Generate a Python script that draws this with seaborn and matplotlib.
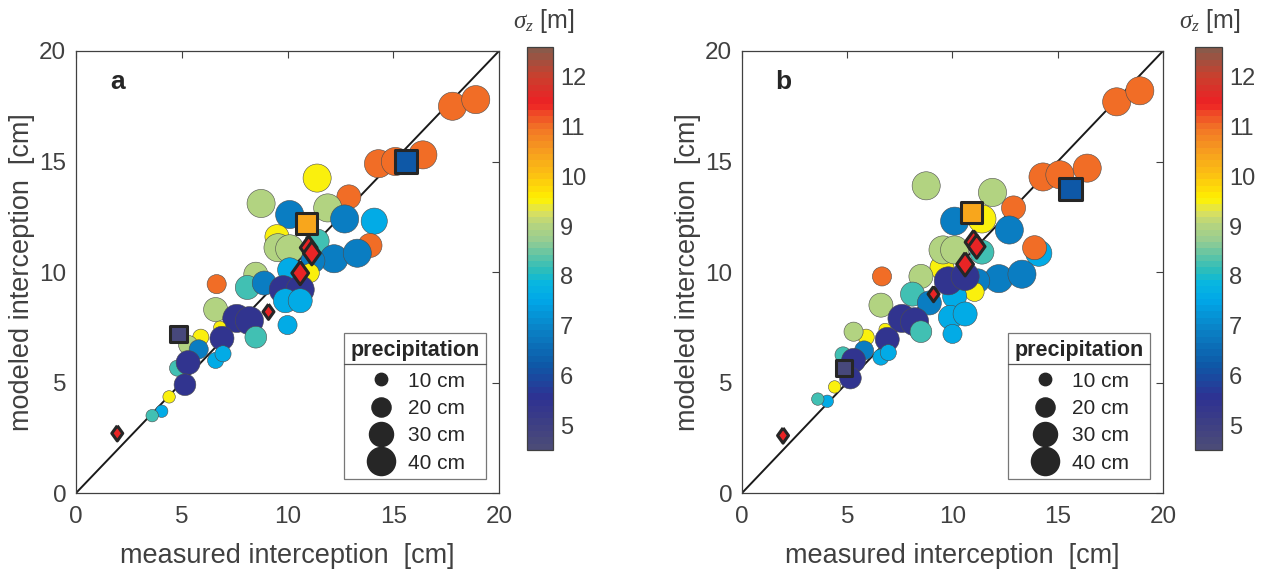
import numpy as np
import pandas as pd
import seaborn as sns
import matplotlib.pyplot as plt
from matplotlib.colors import LinearSegmentedColormap, Normalize
from matplotlib.cm import ScalarMappable
from matplotlib.lines import Line2D

# --- data: circles (sites) ---
measured = [17.8, 18.9, 14.3, 15.1, 16.4, 11.4, 12.9, 8.75, 10.1, 11.9,
            12.7, 14.1, 9.5, 9.55, 10.1, 11.4, 13.9, 12.2, 13.3, 11.2,
            11.05, 10.1, 8.5, 6.65, 8.1, 8.9, 9.8, 10.6, 9.9, 10.6,
            6.6, 7.6, 8.2, 10.0, 8.5, 6.8, 6.9, 5.9, 5.3, 5.8,
            6.6, 6.95, 4.8, 5.3, 5.15, 4.4, 4.05, 3.6]
modeled_a = [17.5, 17.8, 14.9, 15.0, 15.3, 14.25, 13.4, 13.1, 12.6, 12.9,
             12.4, 12.3, 11.6, 11.1, 11.05, 11.4, 11.2, 10.6, 10.85, 10.5,
             9.95, 10.1, 9.9, 9.45, 9.3, 9.5, 9.2, 9.2, 8.7, 8.7,
             8.3, 7.9, 7.8, 7.6, 7.05, 7.5, 7.0, 7.05, 6.7, 6.5,
             6.0, 6.3, 5.65, 5.9, 4.9, 4.35, 3.7, 3.5]
modeled_b = [17.7, 18.2, 14.3, 14.4, 14.7, 12.4, 12.9, 13.9, 12.3, 13.6,
             11.9, 10.85, 10.2, 11.0, 11.0, 10.9, 11.1, 9.7, 9.9, 9.6,
             9.1, 8.9, 9.8, 9.8, 9.0, 8.6, 9.6, 9.8, 7.95, 8.1,
             8.5, 7.9, 7.75, 7.2, 7.3, 7.4, 6.95, 7.05, 7.3, 6.45,
             6.15, 6.35, 6.25, 6.0, 5.2, 4.8, 4.15, 4.25]
sigma_z = [11.0, 11.0, 11.0, 11.0, 11.0, 9.55, 11.0, 8.95, 6.85, 8.95,
           6.85, 7.6, 9.55, 8.95, 8.95, 8.2, 11.0, 6.85, 6.85, 6.85,
           9.55, 7.6, 8.95, 11.0, 8.2, 6.85, 5.5, 5.5, 7.6, 7.6,
           8.95, 5.5, 5.5, 7.6, 8.2, 9.55, 5.5, 9.55, 8.95, 6.85,
           7.6, 7.6, 8.2, 5.5, 5.5, 9.55, 7.6, 8.2]
precip = [40, 40, 40, 40, 40, 40, 30, 40, 40, 40,
          40, 35, 30, 40, 40, 30, 30, 40, 40, 30,
          20, 30, 30, 20, 30, 30, 40, 40, 30, 30,
          30, 40, 40, 20, 25, 10, 30, 15, 20, 20,
          15, 15, 15, 30, 25, 10, 10, 10]

# --- data: squares ---
sq_measured = [4.85, 10.9, 15.6]
sq_modeled_a = [7.2, 12.2, 15.0]
sq_modeled_b = [5.65, 12.7, 13.75]
sq_sigma = [4.65, 10.4, 6.2]
sq_size = [140, 240, 260]

# --- data: diamonds ---
dm_measured = [1.95, 9.1, 10.6, 11.0, 11.15]
dm_modeled_a = [2.7, 8.2, 9.95, 11.1, 10.85]
dm_modeled_b = [2.6, 9.0, 10.35, 11.35, 11.15]
dm_sigma = [11.5, 11.5, 11.5, 11.5, 11.5]
dm_size = [120, 120, 280, 280, 280]

legend_precip = [10, 20, 30, 40]

# colormap
stops = [(4.5, '#4b4b78'), (5.5, '#2e3192'), (6.2, '#0d5aa8'), (6.85, '#0a7fc4'),
         (7.5, '#00a8e8'), (7.85, '#08b6e0'), (8.05, '#22bcc0'), (8.4, '#5ec4a6'),
         (8.7, '#96cc92'), (9.06, '#b8d47e'), (9.3, '#dce25c'), (9.55, '#fff200'),
         (10.06, '#fcc012'), (10.5, '#f7a01e'), (11.0, '#f27526'), (11.3, '#ef4a26'),
         (11.5, '#ee2024'), (12.07, '#c8402e'), (12.6, '#8a5a4a')]
vmin, vmax = 4.5, 12.6
cmap = LinearSegmentedColormap.from_list(
    'sigz', [((v - vmin) / (vmax - vmin), c) for v, c in stops], N=64)
norm = Normalize(vmin, vmax)

# MATLAB-like diamond (wider than matplotlib's thin 'd')
diamond = [(0, 1), (0.72, 0), (0, -1), (-0.72, 0), (0, 1)]

sns.set_style('white')
plt.rcParams['font.family'] = ['Liberation Sans', 'DejaVu Sans']
plt.rcParams['mathtext.fontset'] = 'custom'
plt.rcParams['mathtext.it'] = 'Liberation Serif:italic'
grey = '#404040'

df = pd.DataFrame({'measured': measured, 'a': modeled_a, 'b': modeled_b,
                   'sigma': sigma_z, 'precip': precip})
sq = pd.DataFrame({'measured': sq_measured, 'a': sq_modeled_a, 'b': sq_modeled_b,
                   'sigma': sq_sigma, 'size': sq_size})
dm = pd.DataFrame({'measured': dm_measured, 'a': dm_modeled_a, 'b': dm_modeled_b,
                   'sigma': dm_sigma, 'size': dm_size})

fig = plt.figure(figsize=(12.63, 5.73), dpi=100)
ax_pos = [[0.0602, 0.1396, 0.3349, 0.7714], [0.5875, 0.1396, 0.3333, 0.7714]]
cb_pos = [[0.4173, 0.2147, 0.0206, 0.7033], [0.9462, 0.2147, 0.0214, 0.7033]]
cb_title_x = [0.4307, 0.9577]
size_range = (80, 410)

legends = []
for col, label, apos, cpos, tx in zip(['a', 'b'], ['a', 'b'], ax_pos, cb_pos, cb_title_x):
    ax = fig.add_axes(apos)
    ax.plot([0, 20], [0, 20], color='#1a1a1a', lw=1.4, zorder=1)
    sns.scatterplot(data=df, x='measured', y=col, hue='sigma', size='precip',
                    palette=cmap, hue_norm=norm, sizes=size_range, size_norm=(10, 40),
                    edgecolor=(0.3, 0.3, 0.3, 0.5), linewidth=0.4, alpha=1,
                    legend=False, ax=ax, zorder=2)
    sns.scatterplot(data=dm, x='measured', y=col, hue='sigma', size='size',
                    sizes=(120, 280), size_norm=(120, 280),
                    palette=cmap, hue_norm=norm, marker=diamond, edgecolor='#262626',
                    linewidth=2.2, legend=False, ax=ax, zorder=3)
    sns.scatterplot(data=sq, x='measured', y=col, hue='sigma', size='size',
                    sizes=(140, 260), size_norm=(140, 260),
                    palette=cmap, hue_norm=norm, marker='s', edgecolor='#262626',
                    linewidth=2.2, legend=False, ax=ax, zorder=3)
    ax.set_xlim(0, 20)
    ax.set_ylim(0, 20)
    ax.set_xticks([0, 5, 10, 15, 20])
    ax.set_yticks([0, 5, 10, 15, 20])
    ax.tick_params(direction='in', length=5, color=grey, labelcolor=grey,
                   labelsize=17.5, top=True, right=True)
    ax.tick_params(axis='x', pad=9)
    ax.tick_params(axis='y', pad=7)
    for s in ax.spines.values():
        s.set_color(grey)
        s.set_linewidth(0.9)
    ax.set_xlabel('measured interception  [cm]', fontsize=19.5, color=grey, labelpad=11)
    ax.set_ylabel('modeled interception  [cm]', fontsize=19.5, color=grey, labelpad=3)
    ax.text(1.6, 18.6, label, fontsize=19, fontweight='bold', color='#262626',
            ha='left', va='center')

    handles = [Line2D([], [], marker='o', ls='', color='#262626',
                      markersize=np.sqrt(size_range[0] + (p - 10) / 30 * (size_range[1] - size_range[0])))
               for p in legend_precip]
    leg = ax.legend(handles, [f'{p} cm' for p in legend_precip], title='precipitation',
                    loc='lower right', bbox_to_anchor=(0.969, 0.032), borderaxespad=0,
                    fontsize=15, title_fontproperties={'weight': 'bold', 'size': 15.5},
                    frameon=True, fancybox=False, edgecolor='#555555',
                    handletextpad=0.55, labelspacing=0.4, borderpad=0.3,
                    handlelength=1.5)
    leg.get_frame().set_linewidth(0.9)
    leg._legend_box.sep = 8
    legends.append(leg)

    cax = fig.add_axes(cpos)
    cb = fig.colorbar(ScalarMappable(norm=norm, cmap=cmap), cax=cax, ticks=range(5, 13))
    cb.outline.set_edgecolor(grey)
    cb.outline.set_linewidth(0.9)
    cax.tick_params(direction='in', length=4, color='white', labelcolor=grey,
                    labelsize=17, pad=5)
    fig.text(tx, 0.963, r'$\sigma_z$ [m]', fontsize=18, color=grey,
             ha='center', va='center')

# separator line under legend titles
fig.canvas.draw()
for leg in legends:
    fb = leg.get_frame().get_window_extent()
    tb = leg.get_title().get_window_extent()
    y = tb.y0 - 3
    inv = fig.transFigure.inverted()
    (x0, yy), (x1, _) = inv.transform([(fb.x0, y), (fb.x1, y)])
    fig.add_artist(Line2D([x0, x1], [yy, yy], color='#555555', lw=0.9))

fig.savefig('out.png', dpi=100)
